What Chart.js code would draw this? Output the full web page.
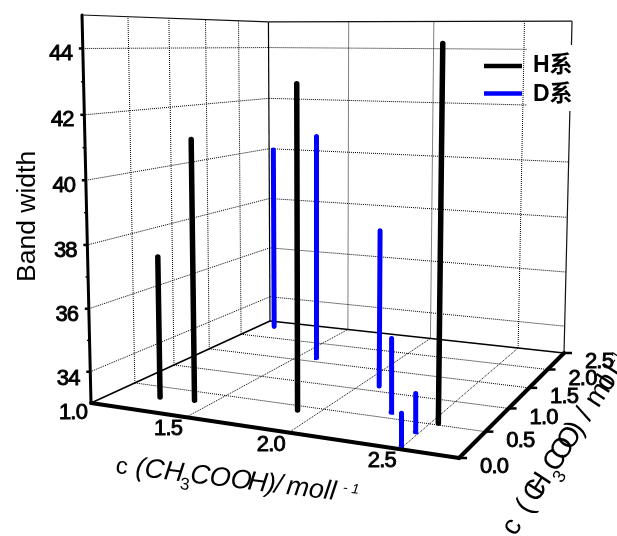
<!DOCTYPE html>
<html>
<head>
<meta charset="utf-8">
<style>
  html, body { margin: 0; padding: 0; background: #fff; overflow: hidden; }
  canvas { display: block; }
</style>
<script src="https://cdn.jsdelivr.net/npm/chart.js@4"></script>
</head>
<body>
<canvas id="myChart" width="617" height="536"></canvas>
<script>
// values
const hAcid = [1.25, 1.42, 1.91, 2.54];
const hOther = [0.26, 0.29, 0.38, 0.50];
const hBand = [37.55, 41.25, 43.0, 44.2];
const dAcid = [1.10, 1.61, 2.10, 2.30, 2.49, 2.50];
const dOther = [2.30, 1.57, 1.08, 0.58, 0.29, 0.02];
const dBand = [40.05, 40.95, 38.2, 35.35, 34.2, 34.0];
const barBase = 33.06;

const acidTicks = [1.0, 1.5, 2.0, 2.5];
const otherTicks = [0.0, 0.5, 1.0, 1.5, 2.0, 2.5];
const bandTicks = [34, 36, 38, 40, 42, 44];
const bandMinorTicks = [35, 37, 39, 41, 43];
const acidMin = 1, acidMax = 2.75, otherMax = 2.5, bandMin = 33, bandMax = 45;

// camera fitted to the corners of the box
function project(x, y, z) {
  const u = (x - acidMin) / (acidMax - acidMin);
  const v = y / otherMax;
  const t = (z - bandMin) / (bandMax - bandMin);
  const w = -0.1284 * u + 0.2975 * v + 1;
  const fx = (309.1 * u + 259.3 * v + 91) / w;
  const fy = (-3.8 * u + 13.5 * v + 403) / w;
  const len = 388 / w;
  const d0 = 10378 - fy;
  const k = len / (d0 + len);
  const s = d0 * (1 / (1 - k * t) - 1);
  return { x: fx + (fx - 322) * s / d0, y: fy - s };
}

const datasets = [];
function addLine(a, b, color, width, dash, cap) {
  datasets.push({
    data: [a, b],
    borderColor: color,
    borderWidth: width,
    borderDash: dash || [],
    borderCapStyle: cap || 'butt',
    showLine: true,
    pointRadius: 0,
    clip: false
  });
}
function shift(p, dx, dy) { return { x: p.x + dx, y: p.y + dy }; }

const dotted = [1, 1];
const gridColor = '#000000';
// left wall and back wall
bandTicks.forEach(z => {
  addLine(project(acidMin, 0, z), project(acidMin, otherMax, z), gridColor, 1, dotted);
  addLine(project(acidMin, otherMax, z), project(acidMax, otherMax, z), gridColor, 1, dotted);
});
otherTicks.slice(1, -1).forEach(y => {
  addLine(project(acidMin, y, bandMin), project(acidMin, y, bandMax), gridColor, 1, dotted);
  addLine(project(acidMin, y, bandMin), project(acidMax, y, bandMin), gridColor, 1, dotted);
});
acidTicks.slice(1).forEach(x => {
  addLine(project(x, otherMax, bandMin), project(x, otherMax, bandMax), gridColor, 1, dotted);
  addLine(project(x, 0, bandMin), project(x, otherMax, bandMin), gridColor, 1, dotted);
});

// thin frame
addLine(project(acidMin, 0, bandMax), project(acidMin, otherMax, bandMax), '#111111', 1.2);
addLine(project(acidMin, otherMax, bandMax), project(acidMax, otherMax, bandMax), '#111111', 1.2);
addLine(project(acidMin, otherMax, bandMin), project(acidMin, otherMax, bandMax), '#000000', 1.2);
addLine(project(acidMax, otherMax, bandMin), project(acidMax, otherMax, bandMax), '#111111', 1.2);
addLine(project(acidMin, 0, bandMin), project(acidMin, otherMax, bandMin), '#000000', 1.6);
addLine(project(acidMin, otherMax, bandMin), project(acidMax, otherMax, bandMin), '#000000', 1.6);

// bars
hAcid.forEach((x, i) => {
  addLine(project(x, hOther[i], barBase), project(x, hOther[i], hBand[i]), '#000000', 5.5, [], 'round');
});
dAcid.forEach((x, i) => {
  addLine(project(x, dOther[i], barBase), project(x, dOther[i], dBand[i]), '#0000ff', 5, [], 'round');
});

// heavy axes and their ticks
addLine(project(acidMin, 0, bandMin), project(acidMin, 0, bandMax), '#000000', 3, [], 'round');
addLine(project(acidMin, 0, bandMin), project(acidMax, 0, bandMin), '#000000', 4, [], 'round');
addLine(project(acidMax, 0, bandMin), project(acidMax, otherMax, bandMin), '#000000', 4, [], 'round');
bandTicks.forEach(z => {
  const p = project(acidMin, 0, z);
  addLine(p, shift(p, -4, 0), '#000000', 2.5);
});
bandMinorTicks.forEach(z => {
  const p = project(acidMin, 0, z);
  addLine(p, shift(p, -2.5, 0), '#000000', 1.5);
});
otherTicks.forEach(y => {
  const p = project(acidMax, y, bandMin);
  addLine(p, shift(p, 8, 0), '#000000', 2.5);
});

// Chart.js paints the first dataset last
datasets.reverse();

function tickText(ctx, str, x, y) {
  ctx.font = '22px "Liberation Sans", Arial, sans-serif';
  ctx.letterSpacing = '-0.8px';
  ctx.textAlign = 'center';
  ctx.textBaseline = 'middle';
  ctx.fillStyle = '#000';
  ctx.strokeStyle = '#000';
  ctx.lineWidth = 0.9;
  ctx.strokeText(str, x, y);
  ctx.fillText(str, x, y);
}

// runs of text along a rotated baseline: [text, font size, drop, advance or null, style]
function runText(ctx, runs, x, y, deg, font) {
  ctx.save();
  ctx.translate(x, y);
  ctx.rotate(deg * Math.PI / 180);
  ctx.textAlign = 'left';
  ctx.textBaseline = 'alphabetic';
  ctx.fillStyle = '#000';
  ctx.letterSpacing = '0px';
  let pos = 0;
  runs.forEach(r => {
    ctx.font = (r[4] || font) + ' ' + r[1] + 'px "Liberation Sans", Arial, sans-serif';
    ctx.fillText(r[0], pos, r[2]);
    pos += r[3] != null ? r[3] : ctx.measureText(r[0]).width;
  });
  ctx.restore();
}

const textPlugin = {
  id: 'boxText',
  afterDatasetsDraw(chart) {
    const ctx = chart.ctx;
    ctx.save();

    // legend sits on a white patch that hides the grid
    ctx.fillStyle = '#fff';
    ctx.fillRect(527, 45, 50, 66);
    ctx.strokeStyle = '#000';
    ctx.lineWidth = 4.5;
    ctx.beginPath(); ctx.moveTo(484, 66); ctx.lineTo(522, 66); ctx.stroke();
    ctx.strokeStyle = '#0000ff';
    ctx.beginPath(); ctx.moveTo(484, 93.5); ctx.lineTo(522, 93.5); ctx.stroke();
    ctx.fillStyle = '#000';
    ctx.font = 'bold 23px "Liberation Sans", "Noto Sans CJK SC", sans-serif';
    ctx.textAlign = 'left';
    ctx.textBaseline = 'alphabetic';
    ctx.fillText('H系', 533, 72);
    ctx.fillText('D系', 533, 101);

    bandTicks.forEach(z => {
      const p = project(acidMin, 0, z);
      tickText(ctx, String(z), p.x - 22, p.y + 5 + (44 - z) * 0.2);
    });
    acidTicks.forEach(x => {
      const p = project(x, 0, bandMin);
      tickText(ctx, x.toFixed(1), p.x - 18, p.y + (x === 1 ? 10 : 12));
    });
    otherTicks.forEach(y => {
      const p = project(acidMax, y, bandMin);
      tickText(ctx, y.toFixed(1), p.x + 35, p.y + 9);
    });

    runText(ctx, [['Band width', 26.5, 0, null]], 35, 282, -90, 'normal');

    runText(ctx, [
      ['c', 24, 0, 20, 'normal'],
      ['(', 27, 0, 9],
      ['CH', 27, 0, 37],
      ['3', 17, 8, 9, 'normal'],
      ['COO', 27, 0, 58],
      ['H', 27, 0, 19],
      [')', 27, 0, 8],
      ['/', 27, 0, 12],
      ['moll', 27, 0, 56],
      ['- 1', 14, -9, null]
    ], 115, 473, 7, 'italic');

    runText(ctx, [
      ['c', 28, 0, 26],
      ['(', 28, 0, 14],
      ['C', 28, 0, 8],
      ['H', 28, 0, 22],
      ['3', 18, 10, 6],
      ['C', 28, 0, 13],
      ['O', 28, 0, 13],
      ['O', 28, 0, 18],
      [')', 28, 0, 17],
      ['/', 28, 0, 16],
      ['m', 28, 0, 19],
      ['o', 28, 0, 6],
      ['l', 28, 0, 12],
      ['l', 28, 0, 9],
      ['-1', 14, -9, null]
    ], 515, 537, -57, 'normal');

    ctx.restore();
  }
};

new Chart(document.getElementById('myChart'), {
  type: 'scatter',
  data: { datasets: datasets },
  options: {
    responsive: false,
    animation: false,
    layout: { padding: 0 },
    plugins: { legend: { display: false }, tooltip: { enabled: false } },
    scales: {
      x: { display: false, type: 'linear', min: 0, max: 617 },
      y: { display: false, type: 'linear', min: 0, max: 536, reverse: true }
    }
  },
  plugins: [textPlugin]
});
</script>
</body>
</html>
